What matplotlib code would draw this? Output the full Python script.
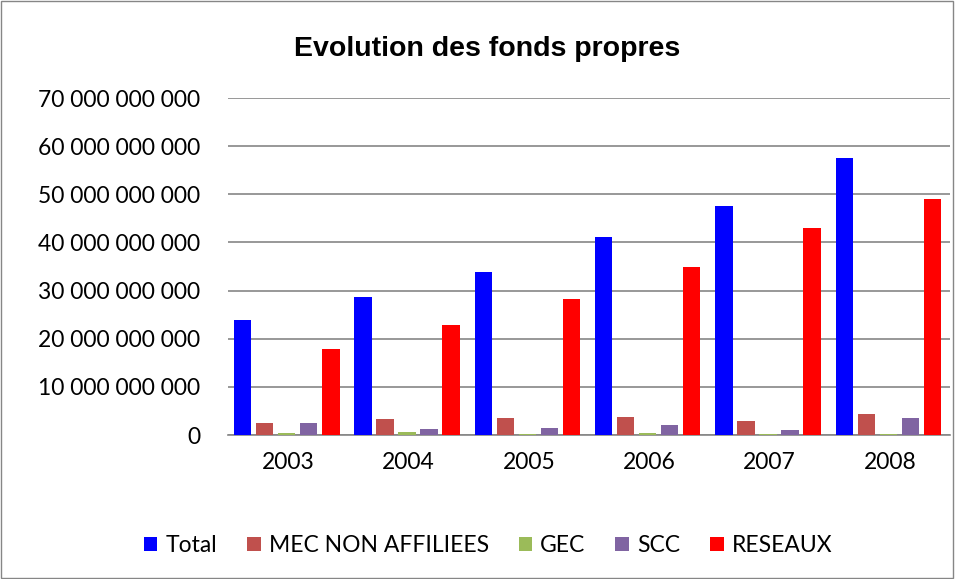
import numpy as np
import matplotlib.pyplot as plt
from matplotlib.ticker import FuncFormatter

years = ["2003", "2004", "2005", "2006", "2007", "2008"]
total = [23.8e9, 28.7e9, 33.8e9, 41.2e9, 47.6e9, 57.5e9]
mec = [2.5e9, 3.3e9, 3.5e9, 3.7e9, 3.0e9, 4.3e9]
gec = [0.4e9, 0.6e9, 0.2e9, 0.4e9, 0.2e9, 0.2e9]
scc = [2.5e9, 1.3e9, 1.4e9, 2.0e9, 1.1e9, 3.6e9]
reseaux = [17.8e9, 22.9e9, 28.2e9, 34.9e9, 42.9e9, 49.0e9]

series = [("Total", total, "#0000ff"),
          ("MEC NON AFFILIEES", mec, "#c0504d"),
          ("GEC", gec, "#9bbb59"),
          ("SCC", scc, "#8064a2"),
          ("RESEAUX", reseaux, "#ff0000")]

plt.rcParams['font.family'] = ['Lato', 'DejaVu Sans']

fig = plt.figure(figsize=(9.55, 5.79), dpi=100)
fig.patches.append(plt.Rectangle((0.001, 0.001), 0.997, 0.997, transform=fig.transFigure,
                                 fill=False, edgecolor="#868686", linewidth=1))
ax = fig.add_axes([0.2387, 0.2487, 0.756, 0.582])

x = np.arange(len(years))
slot = 0.183
w = 0.145
# bars of a group sit side by side, starting a little past the category edge
for i, (name, vals, col) in enumerate(series):
    ax.bar(x - 0.5 + 0.05 + slot * i + w / 2, vals, width=w,
           color=col, label=name, zorder=3)

ax.set_xlim(-0.5, len(years) - 0.5)
ax.set_ylim(0, 70e9)
ax.set_yticks(np.arange(0, 70e9 + 1, 10e9))
ax.yaxis.set_major_formatter(FuncFormatter(lambda v, p: f"{int(round(v)):,}".replace(",", " ")))
ax.set_xticks(x)
ax.set_xticklabels(years)
ax.tick_params(axis="both", length=0, labelsize=16.5, colors="black")
ax.tick_params(axis="x", pad=12)
ax.tick_params(axis="y", pad=20)
ax.grid(axis="y", color="#868686", linewidth=1.2, zorder=0)
for s in ["top", "right", "left"]:
    ax.spines[s].set_visible(False)
ax.spines["bottom"].set_color("#868686")
ax.spines["bottom"].set_linewidth(1.2)

fig.text(0.51, 0.915, "Evolution des fonds propres", ha="center", va="center",
         fontsize=20.5, fontweight="bold", family=["Liberation Sans", "DejaVu Sans"])

fig.legend(loc="center", bbox_to_anchor=(0.511, 0.058), ncol=5, frameon=False,
           fontsize=16.5, handlelength=0.6, handleheight=0.6, handletextpad=0.35,
           columnspacing=1.3)

fig.savefig("out.png", dpi=100)
